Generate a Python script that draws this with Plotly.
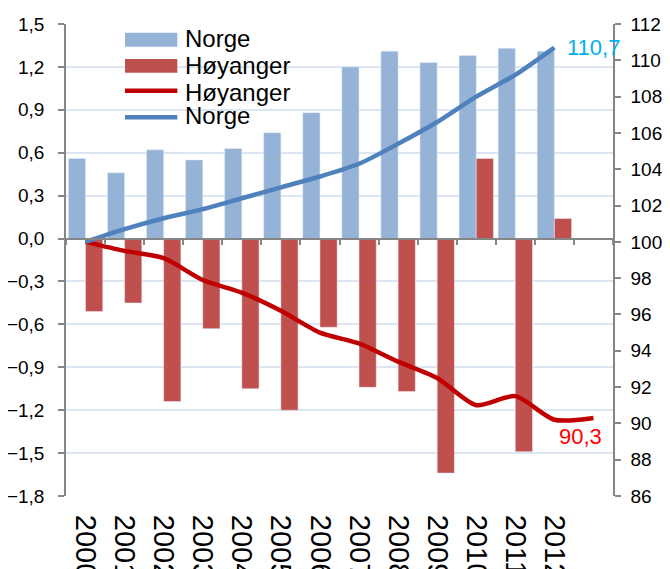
import plotly.graph_objects as go

# ---- data ----
years = [str(y) for y in range(2000, 2014)]
year_labels = ["2000", "2001", "2002", "2003", "2004", "2005", "2006",
               "2007", "2008", "2009", "2010", "2011", "2012", ""]
norge_change = [0.56, 0.46, 0.62, 0.55, 0.63, 0.74, 0.88, 1.20, 1.31, 1.23, 1.28, 1.33, 1.31, None]
hoyanger_change = [-0.51, -0.45, -1.14, -0.63, -1.05, -1.20, -0.62, -1.04, -1.07, -1.64, 0.56, -1.49, 0.14, None]
norge_index = [100.0, 100.7, 101.3, 101.8, 102.4, 103.0, 103.6, 104.3, 105.4, 106.6, 108.0, 109.2, 110.7]
hoyanger_index = [100.0, 99.5, 99.1, 97.9, 97.2, 96.2, 95.0, 94.4, 93.4, 92.5, 91.0, 91.5, 90.2, 90.3]

FONT = "Liberation Sans, Arial, sans-serif"
C_NORGE_BAR = "#95B3D7"
C_HOY_BAR = "#C0504D"
C_HOY_LINE = "#C00000"
C_NORGE_LINE = "#4F81BD"
AXIS = "#868686"

fig = go.Figure()
fig.add_trace(go.Bar(x=years, y=norge_change, name="Norge", marker_color=C_NORGE_BAR,
                     showlegend=False, xaxis="x", yaxis="y"))
fig.add_trace(go.Bar(x=years, y=hoyanger_change, name="Høyanger", marker_color=C_HOY_BAR,
                     showlegend=False, xaxis="x", yaxis="y"))
fig.add_trace(go.Scatter(x=years[:len(hoyanger_index)], y=hoyanger_index, name="Høyanger",
                         mode="lines", line=dict(color=C_HOY_LINE, width=4.5, shape="spline", smoothing=0.7),
                         showlegend=False, xaxis="x", yaxis="y2"))
fig.add_trace(go.Scatter(x=years[:len(norge_index)], y=norge_index, name="Norge",
                         mode="lines", line=dict(color=C_NORGE_LINE, width=4.5, shape="spline", smoothing=0.7),
                         showlegend=False, xaxis="x", yaxis="y2"))
# carrier for the bottom label axis (no visible marks)
fig.add_trace(go.Scatter(x=years, y=[None] * len(years), mode="lines", showlegend=False,
                         hoverinfo="skip", xaxis="x2", yaxis="y"))

ymin, ymax = -1.8, 1.5
# the page body has an 8px margin, so the figure is 8px smaller and shifted
fig.update_layout(
    width=662, height=561,
    margin=dict(l=58, r=57, t=16, b=73, autoexpand=False),
    paper_bgcolor="white", plot_bgcolor="white",
    separators=",.",
    font=dict(family=FONT, color="black"),
    bargap=0.12, bargroupgap=0, barmode="group",
    showlegend=False,
    xaxis=dict(type="category", categoryorder="array", categoryarray=years,
               range=[-0.5, len(years) - 0.5], automargin=False,
               anchor="free", position=(0 - ymin) / (ymax - ymin),
               showline=True, linecolor=AXIS, linewidth=1.5,
               ticks="outside", tickson="boundaries", ticklen=6, tickcolor=AXIS, tickwidth=1.5,
               showticklabels=False, showgrid=False, zeroline=False),
    xaxis2=dict(type="category", overlaying="x", matches="x", anchor="y", side="bottom",
                automargin=False,
                tickmode="array", tickvals=years, ticktext=year_labels, tickangle=90,
                tickfont=dict(size=29, family=FONT, color="black"),
                ticks="outside", ticklen=12, tickcolor="rgba(0,0,0,0)",
                showline=False, showgrid=False, zeroline=False),
    yaxis=dict(range=[ymin, ymax], tick0=0, dtick=0.3, tickformat=".1f", automargin=False,
               showgrid=True, gridcolor="#DCE6F2", gridwidth=1.5, zeroline=False,
               showline=True, linecolor=AXIS, linewidth=1.5,
               ticks="outside", ticklen=6, tickcolor=AXIS, tickwidth=1.5, ticklabelstandoff=10,
               tickfont=dict(size=19, family=FONT, color="black")),
    yaxis2=dict(range=[86, 112], tick0=86, dtick=2, overlaying="y", anchor="x", side="right",
                automargin=False, showgrid=False, zeroline=False,
                showline=True, linecolor=AXIS, linewidth=1.5,
                ticks="outside", ticklen=6, tickcolor=AXIS, tickwidth=1.5, ticklabelstandoff=6,
                tickfont=dict(size=19, family=FONT, color="black")),
)

# value labels at the line ends (category axis -> use category index)
i_n = len(norge_index) - 1
i_h = len(hoyanger_index) - 1
fig.add_annotation(x=i_n, y=norge_index[-1], xref="x", yref="y2",
                   text=f"{norge_index[-1]:.1f}".replace(".", ","), showarrow=False,
                   xanchor="left", yanchor="middle", xshift=11,
                   font=dict(size=22, color="#00B0F0", family=FONT))
fig.add_annotation(x=i_h, y=hoyanger_index[-1], xref="x", yref="y2",
                   text=f"{hoyanger_index[-1]:.1f}".replace(".", ","), showarrow=False,
                   xanchor="center", yanchor="middle", xshift=-13, yshift=-19,
                   font=dict(size=22, color="#FF0000", family=FONT))

# custom legend (Excel-style wide keys)
lx0, lx1, tx = 0.1079, 0.2035, 0.2133
fig.add_shape(type="rect", xref="paper", yref="paper", x0=lx0, x1=lx1, y0=0.9519, y1=0.9816,
              fillcolor=C_NORGE_BAR, line=dict(width=0), layer="above")
fig.add_shape(type="rect", xref="paper", yref="paper", x0=lx0, x1=lx1, y0=0.8968, y1=0.9258,
              fillcolor=C_HOY_BAR, line=dict(width=0), layer="above")
fig.add_shape(type="line", xref="paper", yref="paper", x0=lx0, x1=lx1, y0=0.8587, y1=0.8587,
              line=dict(color=C_HOY_LINE, width=4.5), layer="above")
fig.add_shape(type="line", xref="paper", yref="paper", x0=lx0, x1=lx1, y0=0.8023, y1=0.8023,
              line=dict(color=C_NORGE_LINE, width=4.5), layer="above")
for label, yy in [("Norge", 0.9697), ("Høyanger", 0.9114), ("Høyanger", 0.8559), ("Norge", 0.8057)]:
    fig.add_annotation(x=tx, y=yy, xref="paper", yref="paper", text=label, showarrow=False,
                       xanchor="left", yanchor="middle",
                       font=dict(size=24, color="black", family=FONT))

fig.write_html("out.html")
